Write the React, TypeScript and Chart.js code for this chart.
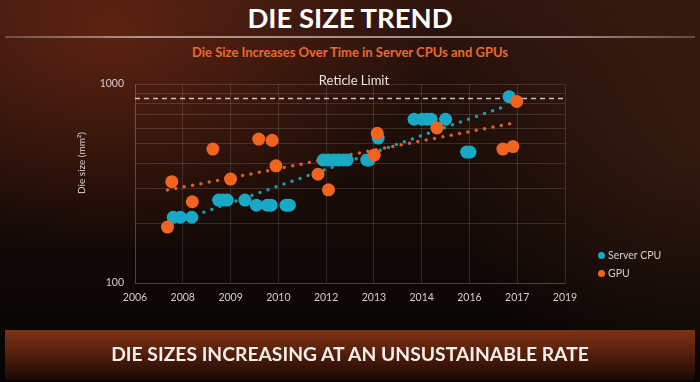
import React, { useEffect, useRef } from "react";
import { Chart, registerables } from "chart.js";

Chart.register(...registerables);

// ---- Data ----
const xTickLabels = ["2006", "2008", "2009", "2010", "2012", "2013", "2014", "2016", "2017", "2019"];
const yTickLabels = ["100", "1000"];
const yGridValues = [100, 200, 300, 400, 500, 600, 700, 800, 900, 1000];

const cpuX = [0.8, 0.95, 1.19, 1.75, 1.84, 1.93, 2.3, 2.54, 2.77, 2.85, 3.16, 3.23, 3.94, 4.05, 4.16, 4.26, 4.36, 4.44, 4.85, 4.9, 5.09, 5.84, 6.01, 6.11, 6.2, 6.5, 6.94, 7.01, 7.83];
const cpuY = [214, 214, 214, 261, 261, 261, 261, 246, 246, 246, 246, 246, 415, 415, 415, 415, 415, 415, 415, 415, 535, 665, 665, 665, 665, 665, 455, 455, 864];

const gpuX = [0.68, 0.77, 1.2, 1.63, 2.0, 2.59, 2.87, 2.95, 3.83, 4.05, 5.07, 5.01, 6.32, 7.7, 7.91, 7.99];
const gpuY = [191, 323, 256, 471, 333, 529, 521, 388, 352, 294, 565, 440, 601, 471, 485, 817];

const cpuTrendX = [0.77, 7.69];
const cpuTrendY = [199, 764];
const gpuTrendX = [0.68, 7.86];
const gpuTrendY = [293, 632];

const reticleX = [0, 9];
const reticleY = [845, 845];

const seriesNames = ["Server CPU", "GPU"];

const TEAL = "#1aa9c4";
const ORANGE = "#f0641f";
const TEAL_TREND = "#1a9cab";
const ORANGE_TREND = "#d8602c";
const GRID = "rgba(255,255,255,0.13)";
const TEXT = "#d6ceca";
const FONT = "Lato, 'Open Sans', sans-serif";

const pts = (xs: number[], ys: number[]) => xs.map((x, i) => ({ x, y: ys[i] }));

export default function App() {
  const canvasRef = useRef<HTMLCanvasElement | null>(null);

  useEffect(() => {
    document.body.style.margin = "0";
    document.body.style.overflow = "hidden";
    const ctx = canvasRef.current;
    if (!ctx) return;
    const chart = new Chart(ctx, {
      type: "scatter",
      data: {
        datasets: [
          {
            label: seriesNames[1],
            data: pts(gpuX, gpuY),
            backgroundColor: ORANGE,
            borderWidth: 0,
            pointRadius: 6.5,
            order: 1,
          },
          {
            label: seriesNames[0],
            data: pts(cpuX, cpuY),
            backgroundColor: TEAL,
            borderWidth: 0,
            pointRadius: 6.5,
            order: 2,
          },
          {
            label: "CPU trend",
            data: pts(cpuTrendX, cpuTrendY),
            showLine: true,
            pointRadius: 0,
            borderColor: TEAL_TREND,
            borderWidth: 3.5,
            borderDash: [0, 8.5],
            borderCapStyle: "round",
            order: 3,
          } as any,
          {
            label: "GPU trend",
            data: pts(gpuTrendX, gpuTrendY),
            showLine: true,
            pointRadius: 0,
            borderColor: ORANGE_TREND,
            borderWidth: 3.5,
            borderDash: [0, 8.5],
            borderCapStyle: "round",
            order: 3,
          } as any,
          {
            label: "Reticle Limit",
            data: pts(reticleX, reticleY),
            showLine: true,
            pointRadius: 0,
            borderColor: "rgba(230,222,218,0.85)",
            borderWidth: 1.5,
            borderDash: [5, 4],
            order: 4,
          } as any,
        ],
      },
      options: {
        animation: false,
        responsive: false,
        maintainAspectRatio: false,
        layout: { padding: { left: 0, right: 135, top: 84, bottom: 0 } },
        plugins: { legend: { display: false }, tooltip: { enabled: false } },
        scales: {
          x: {
            type: "linear",
            min: 0,
            max: 9,
            afterFit: (s: any) => {
              s.height = 99;
            },
            ticks: {
              stepSize: 1,
              autoSkip: false,
              maxRotation: 0,
              padding: 8,
              color: TEXT,
              font: { family: FONT, size: 10.5 },
              callback: (v: any) => xTickLabels[Math.round(Number(v))] ?? "",
            },
            grid: { color: GRID, drawTicks: false },
            border: { color: GRID },
          },
          y: {
            type: "logarithmic",
            min: 100,
            max: 1000,
            afterFit: (s: any) => {
              s.width = 135;
            },
            afterBuildTicks: (s: any) => {
              s.ticks = yGridValues.map((v) => ({ value: v }));
            },
            ticks: {
              autoSkip: false,
              padding: 11,
              color: TEXT,
              font: { family: FONT, size: 10.5 },
              callback: (v: any) => {
                const s = String(Math.round(Number(v)));
                return yTickLabels.includes(s) ? s : "";
              },
            },
            grid: { color: GRID, drawTicks: false },
            border: { color: GRID },
          },
        },
      },
    });
    return () => chart.destroy();
  }, []);

  return (
    <div
      style={{
        position: "absolute",
        left: 0,
        top: 0,
        width: 700,
        height: 382,
        overflow: "hidden",
        fontFamily: FONT,
        background:
          "radial-gradient(ellipse 320px 220px at 110px 30px, rgba(125,44,22,0.6), rgba(125,44,22,0) 100%)," +
          "radial-gradient(ellipse 260px 260px at 700px 140px, rgba(95,50,28,0.35), rgba(95,50,28,0) 100%)," +
          "linear-gradient(to bottom, #2e150d 0%, #1c0d08 38%, #0d0705 75%, #050302 100%)",
      }}
    >
      <div
        style={{
          position: "absolute",
          left: 0,
          width: 700,
          top: 1,
          textAlign: "center",
          color: "#ffffff",
          fontWeight: 700,
          fontSize: 27.5,
          lineHeight: "34px",
        }}
      >
        DIE SIZE TREND
      </div>
      <div
        style={{
          position: "absolute",
          left: 5,
          width: 690,
          top: 36,
          height: 2,
          background:
            "linear-gradient(to right, rgba(170,150,140,0.4), rgba(200,185,178,0.75) 20%, rgba(200,185,178,0.75) 80%, rgba(170,150,140,0.4))",
        }}
      />
      <div
        style={{
          position: "absolute",
          left: 0,
          width: 700,
          top: 44,
          textAlign: "center",
          color: "#ec6a2c",
          fontWeight: 700,
          fontSize: 13,
          lineHeight: "16px",
        }}
      >
        Die Size Increases Over Time in Server CPUs and GPUs
      </div>
      <canvas
        ref={canvasRef}
        width={700}
        height={382}
        style={{ position: "absolute", left: 0, top: 0, width: 700, height: 382 }}
      />
      <div
        style={{
          position: "absolute",
          left: 254,
          width: 200,
          top: 72,
          textAlign: "center",
          color: "#ece4e0",
          fontSize: 13,
          lineHeight: "16px",
        }}
      >
        Reticle Limit
      </div>
      <div
        style={{
          position: "absolute",
          left: 81 - 60,
          top: 163 - 8,
          width: 120,
          height: 16,
          lineHeight: "16px",
          textAlign: "center",
          transform: "rotate(-90deg)",
          transformOrigin: "60px 8px",
          color: TEXT,
          fontSize: 10,
        }}
      >
        Die size (mm²)
      </div>
      {[
        { name: seriesNames[0], color: TEAL, y: 255 },
        { name: seriesNames[1], color: ORANGE, y: 273 },
      ].map((l) => (
        <div
          key={l.name}
          style={{
            position: "absolute",
            left: 598,
            top: l.y - 8,
            height: 16,
            display: "flex",
            alignItems: "center",
            color: TEXT,
            fontSize: 10.5,
          }}
        >
          <span
            style={{
              display: "inline-block",
              width: 7,
              height: 7,
              borderRadius: "50%",
              background: l.color,
              marginRight: 3,
            }}
          />
          {l.name}
        </div>
      ))}
      <div
        style={{
          position: "absolute",
          left: 5,
          width: 690,
          top: 330,
          height: 50,
          background: "linear-gradient(to bottom, #7e3113 0%, #5a220d 40%, #2a0f06 85%, #1a0904 100%)",
        }}
      />
      <div
        style={{
          position: "absolute",
          left: 0,
          width: 700,
          top: 341,
          textAlign: "center",
          color: "#f6eeea",
          fontWeight: 700,
          fontSize: 19.3,
          lineHeight: "26px",
        }}
      >
        DIE SIZES INCREASING AT AN UNSUSTAINABLE RATE
      </div>
    </div>
  );
}
